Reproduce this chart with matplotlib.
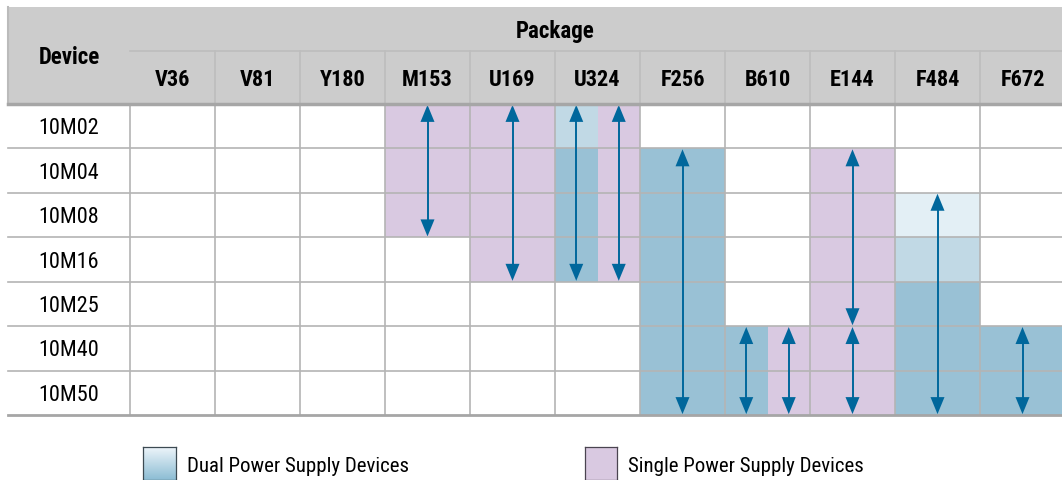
import numpy as np
import matplotlib.pyplot as plt
from matplotlib.patches import Rectangle, Polygon

plt.rcParams['font.family'] = ['Roboto Condensed', 'DejaVu Sans Condensed', 'Liberation Sans Narrow',
                               'Roboto', 'DejaVu Sans']

devices = ['10M02', '10M04', '10M08', '10M16', '10M25', '10M40', '10M50']
packages = ['V36', 'V81', 'Y180', 'M153', 'U169', 'U324', 'F256', 'B610', 'E144', 'F484', 'F672']

# device range offered in each package
single_supply = {'M153': ('10M02', '10M08'), 'U169': ('10M02', '10M16'), 'U324': ('10M02', '10M16'),
                 'B610': ('10M40', '10M50'), 'E144': ('10M04', '10M50')}
dual_supply = {'U324': ('10M02', '10M16'), 'F256': ('10M04', '10M50'), 'B610': ('10M40', '10M50'),
               'F484': ('10M08', '10M50'), 'F672': ('10M40', '10M50')}
# lighter shading for some dual cells (1 = light, 2 = faint)
dual_shade = {('U324', '10M02'): 1, ('F484', '10M08'): 2, ('F484', '10M16'): 1}
# vertical migration arrows: package, supply, first device, last device
migration = [('M153', 'single', '10M02', '10M08'), ('U169', 'single', '10M02', '10M16'),
             ('U324', 'dual', '10M02', '10M16'), ('U324', 'single', '10M02', '10M16'),
             ('F256', 'dual', '10M04', '10M50'), ('B610', 'dual', '10M40', '10M50'),
             ('B610', 'single', '10M40', '10M50'), ('E144', 'single', '10M04', '10M25'),
             ('E144', 'single', '10M40', '10M50'), ('F484', 'dual', '10M08', '10M50'),
             ('F672', 'dual', '10M40', '10M50')]

PURPLE = '#d9c9e1'
BLUES = ['#99c1d5', '#c1d9e5', '#e3eff5']
ARROW = '#00679c'
GRID = '#b4b4b4'
HEAD = '#cccccc'

W, H = 1062, 480
fig = plt.figure(figsize=(W / 100, H / 100), dpi=100)
# data area: columns 130..1065 px, rows 104..415 px
x0, x1, y0, y1 = 130, 1065, 104, 415
ax = fig.add_axes([x0 / W, 1 - y1 / H, (x1 - x0) / W, (y1 - y0) / H])
ax.set_xlim(0, len(packages))
ax.set_ylim(len(devices), 0)
ax.axis('off')

px_x = (x1 - x0) / len(packages)
px_y = (y1 - y0) / len(devices)
left = -(x0 - 8) / px_x
top_hdr = -(y0 - 7) / px_y
mid_hdr = -(y0 - 51) / px_y
dy = 2.5 / px_y  # nudge text down a little

def dev(d):
    return devices.index(d)

def col_part(p, supply):
    i = packages.index(p)
    split = p in single_supply and p in dual_supply
    if not split:
        return i, 1.0
    return (i, 0.5) if supply == 'dual' else (i + 0.5, 0.5)

# header
ax.add_patch(Rectangle((left, top_hdr), len(packages) - left, -top_hdr, fc=HEAD, ec='none', clip_on=False))
ax.text(left / 2, top_hdr / 2 + dy, 'Device', ha='center', va='center',
        fontsize=16.5, fontweight='bold', clip_on=False)
ax.text(5.0, (top_hdr + mid_hdr) / 2 + dy, 'Package', ha='center', va='center',
        fontsize=16.5, fontweight='bold', clip_on=False)
for i, p in enumerate(packages):
    ax.text(i + 0.5, mid_hdr / 2 + dy, p, ha='center', va='center', fontsize=16, fontweight='bold',
            clip_on=False)
    if i > 0:
        ax.plot([i, i], [mid_hdr, 0], color='#bdbdbd', lw=1.2, clip_on=False)
ax.plot([0, len(packages)], [mid_hdr, mid_hdr], color='#bdbdbd', lw=1.2, clip_on=False)
ax.plot([left, left], [top_hdr, 0], color='#bbbbbb', lw=1.5, clip_on=False)

# cells
for p, (a, b) in single_supply.items():
    xs, w = col_part(p, 'single')
    ax.add_patch(Rectangle((xs, dev(a)), w, dev(b) - dev(a) + 1, fc=PURPLE, ec='none'))
for p, (a, b) in dual_supply.items():
    xs, w = col_part(p, 'dual')
    for r in range(dev(a), dev(b) + 1):
        shade = dual_shade.get((p, devices[r]), 0)
        ax.add_patch(Rectangle((xs, r), w, 1, fc=BLUES[shade], ec='none'))

# grid
for i in range(len(packages) + 1):
    ax.plot([i, i], [0, len(devices)], color=GRID, lw=1.2, clip_on=False)
for r in range(1, len(devices)):
    ax.plot([left, len(packages)], [r, r], color=GRID, lw=1.2, clip_on=False)
ax.plot([left, len(packages)], [0, 0], color='#a6a6a6', lw=2.5, clip_on=False)
ax.plot([left, len(packages)], [len(devices), len(devices)], color='#a6a6a6', lw=2, clip_on=False)

for r, d in enumerate(devices):
    ax.text(left / 2, r + 0.5 + dy, d, ha='center', va='center', fontsize=16, clip_on=False)

# arrows
hw = 7 / px_x
hl = 17 / px_y
for p, supply, a, b in migration:
    xs, w = col_part(p, supply)
    xc = xs + w / 2
    ya, yb = dev(a) + 0.02, dev(b) + 0.98
    ax.plot([xc, xc], [ya + hl * 0.8, yb - hl * 0.8], color=ARROW, lw=1.4, solid_capstyle='butt')
    ax.add_patch(Polygon([[xc, ya], [xc - hw, ya + hl], [xc + hw, ya + hl]], fc=ARROW, ec='none'))
    ax.add_patch(Polygon([[xc, yb], [xc - hw, yb - hl], [xc + hw, yb - hl]], fc=ARROW, ec='none'))

# legend
grad = np.linspace(0, 1, 64)[:, None]
lax = fig.add_axes([143 / W, 1 - 480 / H, 33 / W, 33 / H])
c_top = np.array([0.93, 0.96, 0.98])
c_bot = np.array([0.55, 0.74, 0.83])
lax.imshow(c_top + grad[..., None] * (c_bot - c_top), aspect='auto')
lax.set_xticks([])
lax.set_yticks([])
for s in lax.spines.values():
    s.set_color('#3c4a52')
    s.set_linewidth(0.9)
fig.text(187 / W, 1 - 466 / H, 'Dual Power Supply Devices', ha='left', va='center', fontsize=15)

lax2 = fig.add_axes([585 / W, 1 - 480 / H, 32 / W, 33 / H])
lax2.set_facecolor(PURPLE)
lax2.set_xticks([])
lax2.set_yticks([])
for s in lax2.spines.values():
    s.set_color('#4a4450')
    s.set_linewidth(0.9)
fig.text(628 / W, 1 - 466 / H, 'Single Power Supply Devices', ha='left', va='center', fontsize=15)

fig.savefig('out.png', dpi=100)
